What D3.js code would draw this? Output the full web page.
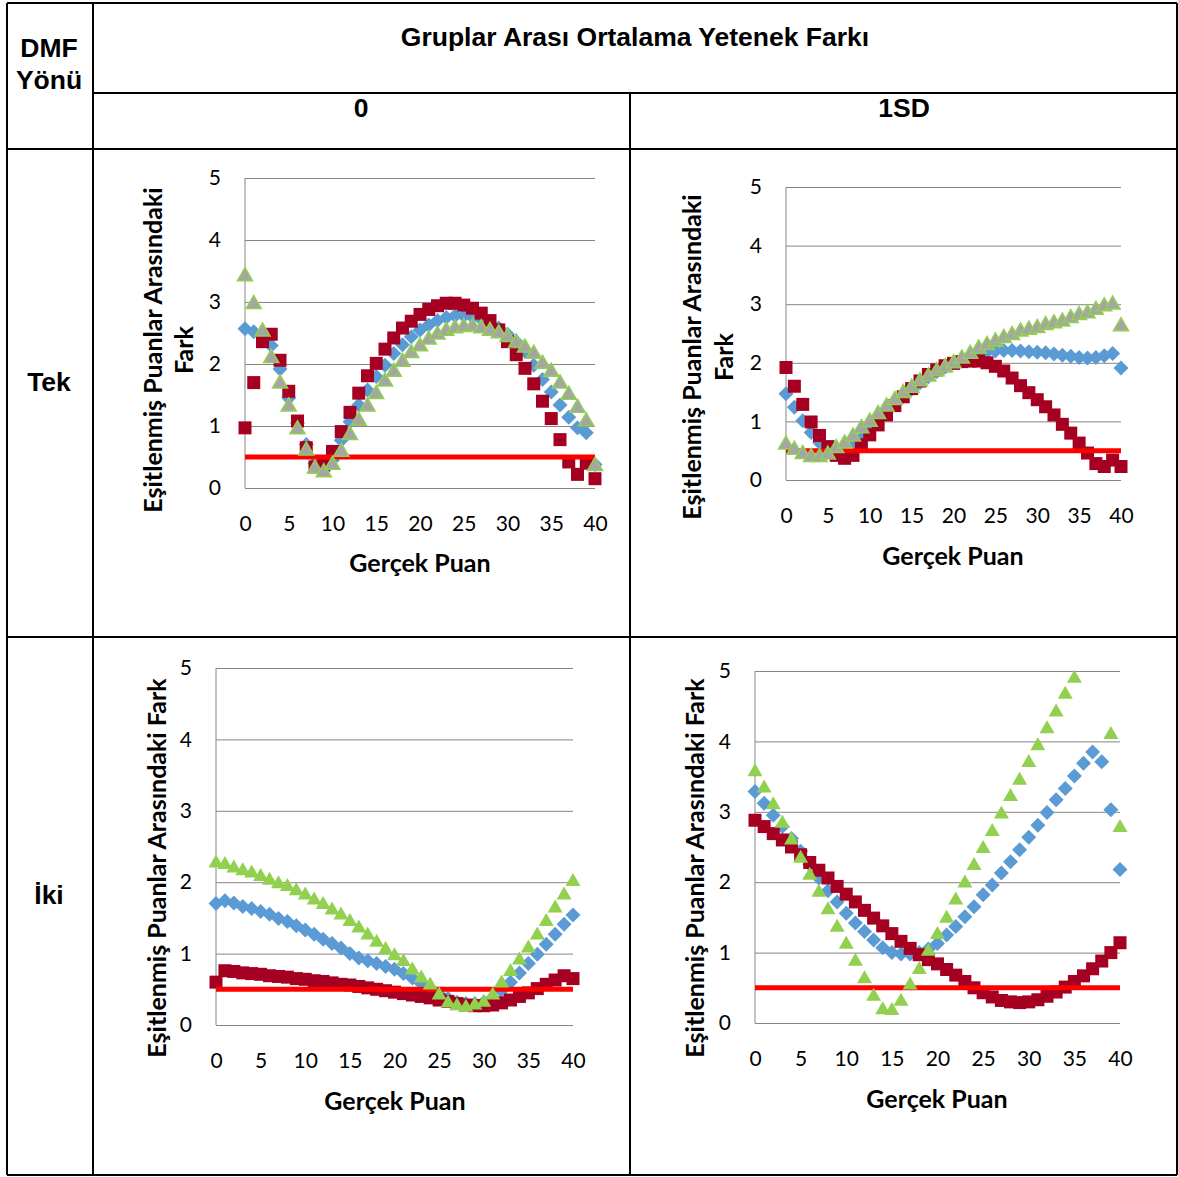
<!DOCTYPE html>
<html>
<head>
<meta charset="utf-8">
<script src="https://cdn.jsdelivr.net/npm/d3@7"></script>
<style>
    body { margin: 0; background: #fff; }
    svg text { font-family: Lato, "Open Sans", sans-serif; fill: #000; }
    .hdr { font-family: "Liberation Sans", Arial, sans-serif; font-weight: bold; font-size: 26.5px; }
    .tick text { font-size: 21px; }
    .ttl { font-weight: bold; font-size: 25px; }
    .grid line { stroke: #868686; stroke-width: 1px; }
    .cell { stroke: #000; stroke-width: 2px; }
</style>
</head>
<body>
<svg id="chart" width="1178" height="1177"></svg>
<script>
// x = Gerçek Puan, y = Eşitlenmiş Puanlar Arasındaki Fark
var puan = [0,1,2,3,4,5,6,7,8,9,10,11,12,13,14,15,16,17,18,19,20,
            21,22,23,24,25,26,27,28,29,30,31,32,33,34,35,36,37,38,39,40];
var xTicks = [0,5,10,15,20,25,30,35,40];
var yTicks = [0,1,2,3,4,5];
var esik = 0.5;

// Tek, fark 0
var tek0Blue = [2.57,2.52,2.45,2.3,1.92,1.45,1.05,0.7,0.4,0.3,0.45,0.77,1.07,1.34,1.58,1.8,1.98,2.17,2.31,2.44,2.55,
                2.63,2.7,2.75,2.78,2.78,2.76,2.72,2.66,2.58,2.48,2.36,2.2,1.98,1.75,1.55,1.34,1.14,0.97,0.89,0.38];
var tek0Red = [0.97,1.7,2.36,2.48,2.06,1.56,1.08,0.65,0.34,0.37,0.59,0.91,1.22,1.53,1.81,2.01,2.24,2.42,2.58,2.69,2.8,
               2.88,2.94,2.98,2.98,2.95,2.9,2.82,2.7,2.55,2.36,2.15,1.93,1.68,1.4,1.12,0.78,0.42,0.22,0.4,0.15];
var tek0Green = [3.44,2.99,2.55,2.12,1.71,1.34,0.97,0.63,0.34,0.28,0.4,0.61,0.88,1.11,1.34,1.54,1.74,1.9,2.06,2.2,2.31,
                 2.42,2.5,2.56,2.6,2.62,2.63,2.6,2.56,2.52,2.46,2.37,2.29,2.19,2.03,1.9,1.71,1.53,1.32,1.1,0.38];

// Tek, fark 1SD
var tek1Blue = [1.47,1.24,1.01,0.81,0.64,0.52,0.45,0.48,0.58,0.72,0.88,1.03,1.17,1.3,1.43,1.55,1.66,1.76,1.85,1.93,2.0,
                2.06,2.12,2.16,2.19,2.2,2.21,2.21,2.2,2.19,2.18,2.17,2.15,2.13,2.11,2.09,2.08,2.09,2.12,2.16,1.91];
var tek1Red = [1.92,1.6,1.29,0.99,0.76,0.57,0.42,0.37,0.42,0.6,0.77,0.94,1.11,1.27,1.42,1.56,1.69,1.8,1.88,1.95,1.99,
               2.02,2.03,2.03,2.0,1.94,1.86,1.74,1.61,1.49,1.37,1.25,1.11,0.95,0.8,0.63,0.46,0.28,0.23,0.34,0.23];
var tek1Green = [0.63,0.54,0.47,0.42,0.42,0.46,0.57,0.65,0.77,0.91,1.02,1.15,1.28,1.39,1.51,1.6,1.71,1.79,1.88,1.95,2.02,
                 2.1,2.18,2.27,2.33,2.39,2.45,2.5,2.56,2.59,2.62,2.67,2.7,2.73,2.79,2.84,2.87,2.93,2.99,3.02,2.65];

// İki, fark 0
var iki0Blue = [1.7,1.74,1.71,1.66,1.63,1.59,1.55,1.49,1.45,1.39,1.33,1.27,1.2,1.14,1.08,1.0,0.94,0.9,0.86,0.82,0.78,
                0.72,0.66,0.58,0.5,0.43,0.37,0.32,0.3,0.3,0.32,0.38,0.48,0.6,0.73,0.86,0.99,1.13,1.27,1.41,1.54];
var iki0Red = [0.6,0.76,0.75,0.73,0.72,0.71,0.69,0.68,0.67,0.65,0.64,0.62,0.61,0.59,0.57,0.56,0.54,0.52,0.5,0.48,0.46,
               0.44,0.42,0.4,0.38,0.35,0.33,0.3,0.28,0.27,0.27,0.28,0.31,0.35,0.4,0.45,0.51,0.57,0.63,0.69,0.65];
var iki0Green = [2.29,2.27,2.22,2.18,2.15,2.1,2.05,2.0,1.96,1.9,1.84,1.77,1.71,1.63,1.56,1.47,1.38,1.28,1.18,1.08,0.99,
                 0.91,0.79,0.68,0.58,0.44,0.33,0.29,0.27,0.3,0.34,0.44,0.61,0.77,0.93,1.1,1.28,1.47,1.66,1.84,2.03];

// İki, fark 1SD (36-38 ölçek dışı)
var iki1Blue = [3.29,3.12,2.95,2.79,2.62,2.44,2.25,2.06,1.88,1.72,1.56,1.42,1.3,1.18,1.07,1.0,0.98,0.98,1.0,1.05,1.13,
                1.25,1.37,1.51,1.65,1.82,1.96,2.13,2.29,2.46,2.64,2.81,2.99,3.17,3.33,3.51,3.69,3.85,3.71,3.03,2.18];
var iki1Red = [2.88,2.79,2.69,2.6,2.5,2.39,2.28,2.17,2.06,1.94,1.83,1.72,1.6,1.49,1.38,1.27,1.16,1.06,0.97,0.9,0.84,
               0.76,0.68,0.59,0.5,0.43,0.37,0.32,0.3,0.29,0.3,0.33,0.38,0.44,0.51,0.59,0.67,0.77,0.88,1.0,1.14];
var iki1Green = [3.59,3.36,3.12,2.86,2.62,2.36,2.12,1.88,1.63,1.38,1.14,0.9,0.65,0.4,0.21,0.2,0.33,0.56,0.78,1.04,1.28,
                 1.51,1.77,2.01,2.26,2.5,2.74,2.99,3.24,3.47,3.72,3.96,4.2,4.44,4.69,4.92,null,null,null,4.12,2.8];

var svg = d3.select("#chart");

// table
var cells = [
    [7, 3, 1177, 3], [7, 1175, 1177, 1175], [7, 3, 7, 1175], [1177, 3, 1177, 1175],
    [93, 3, 93, 1175], [630, 93, 630, 1175],
    [93, 93, 1177, 93], [7, 149, 1177, 149], [7, 637, 1177, 637]
];
svg.selectAll("line.cell").data(cells).enter().append("line")
    .attr("class", "cell")
    .attr("x1", function (d) { return d[0]; })
    .attr("y1", function (d) { return d[1]; })
    .attr("x2", function (d) { return d[2]; })
    .attr("y2", function (d) { return d[3]; });

var headers = [
    ["DMF", 49, 48], ["Yönü", 49, 80],
    ["Gruplar Arası Ortalama Yetenek Farkı", 635, 37],
    ["0", 361, 108], ["1SD", 904, 108],
    ["Tek", 49, 382], ["İki", 49, 895]
];
svg.selectAll("text.hdr").data(headers).enter().append("text")
    .attr("class", "hdr")
    .attr("x", function (d) { return d[1]; })
    .attr("y", function (d) { return d[2]; })
    .attr("dy", "0.35em")
    .attr("text-anchor", "middle")
    .text(function (d) { return d[0]; });

var diamond = "M0,-7.5L7.5,0L0,7.5L-7.5,0Z";
var square = "M-6.5,-6.5H6.5V6.5H-6.5Z";
var triangle = "M0,-7L7.5,6L-7.5,6Z";

var charts = [
    { left: 245, right: 595, top: 178, bottom: 488, blue: tek0Blue, red: tek0Red, green: tek0Green, gray: true,
      xTitle: [420, 563], yTitle: ["Eşitlenmiş Puanlar Arasındaki", "Fark"], yTitleX: 153, yTitleGap: 31, yTitleY: 350 },
    { left: 786, right: 1121, top: 187, bottom: 480, blue: tek1Blue, red: tek1Red, green: tek1Green, gray: true,
      xTitle: [953, 556], yTitle: ["Eşitlenmiş Puanlar Arasındaki", "Fark"], yTitleX: 692, yTitleGap: 32, yTitleY: 357 },
    { left: 216, right: 573, top: 668, bottom: 1025, blue: iki0Blue, red: iki0Red, green: iki0Green, gray: false,
      xTitle: [395, 1101], yTitle: ["Eşitlenmiş Puanlar Arasındaki Fark"], yTitleX: 157, yTitleGap: 0, yTitleY: 868 },
    { left: 755, right: 1120, top: 671, bottom: 1023, blue: iki1Blue, red: iki1Red, green: iki1Green, gray: false,
      xTitle: [937, 1099], yTitle: ["Eşitlenmiş Puanlar Arasındaki Fark"], yTitleX: 695, yTitleGap: 0, yTitleY: 868 }
];

function drawChart(c) {
    var x = d3.scaleLinear().domain([0, 40]).range([c.left, c.right]);
    var y = d3.scaleLinear().domain([0, 5]).range([c.bottom, c.top]);
    var g = svg.append("g");

    // gridlines + y labels
    g.append("g").attr("class", "grid")
        .attr("transform", "translate(" + c.left + ",0)")
        .call(d3.axisLeft(y).tickValues(yTicks).tickSize(-(c.right - c.left)).tickFormat(""))
        .call(function (s) { s.select(".domain").remove(); });

    g.append("g")
        .attr("transform", "translate(" + c.left + ",0)")
        .call(d3.axisLeft(y).tickValues(yTicks).tickSize(0).tickPadding(24).tickFormat(d3.format("d")))
        .call(function (s) { s.select(".domain").remove(); s.selectAll("text").attr("fill", "#000"); })
        .attr("font-family", null).attr("font-size", null);

    g.append("g")
        .attr("transform", "translate(0," + c.bottom + ")")
        .call(d3.axisBottom(x).tickValues(xTicks).tickSize(0).tickPadding(28))
        .call(function (s) { s.select(".domain").remove(); s.selectAll("text").attr("fill", "#000"); })
        .attr("font-family", null).attr("font-size", null);

    g.append("line")
        .attr("x1", c.left).attr("x2", c.left)
        .attr("y1", c.top).attr("y2", c.bottom)
        .attr("stroke", "#868686");

    function points(arr) {
        return puan.map(function (t, i) { return { t: t, v: arr[i] }; })
            .filter(function (d) { return d.v !== null && d.v <= 5; });
    }
    function place(d) { return "translate(" + x(d.t) + "," + y(d.v) + ")"; }

    g.selectAll(".blue").data(points(c.blue)).enter().append("path")
        .attr("class", "blue").attr("d", diamond).attr("transform", place)
        .attr("fill", "#5b9bd5");

    g.selectAll(".red").data(points(c.red)).enter().append("path")
        .attr("class", "red").attr("d", square).attr("transform", place)
        .attr("fill", "#a50021");

    g.append("line")
        .attr("x1", x(0)).attr("x2", x(40))
        .attr("y1", y(esik)).attr("y2", y(esik))
        .attr("stroke", "#ff0000").attr("stroke-width", 5);

    g.selectAll(".green").data(points(c.green)).enter().append("path")
        .attr("class", "green").attr("d", triangle).attr("transform", place)
        .attr("fill", c.gray ? "#a5a5a5" : "#92d050")
        .attr("stroke", c.gray ? "#92d050" : "none")
        .attr("stroke-width", 1.5);

    g.append("text").attr("class", "ttl")
        .attr("x", c.xTitle[0]).attr("y", c.xTitle[1])
        .attr("dy", "0.35em").attr("text-anchor", "middle")
        .text("Gerçek Puan");

    c.yTitle.forEach(function (line, i) {
        var cx = c.yTitleX + i * c.yTitleGap;
        g.append("text").attr("class", "ttl")
            .attr("transform", "translate(" + cx + "," + c.yTitleY + ") rotate(-90)")
            .attr("dy", "0.35em").attr("text-anchor", "middle")
            .text(line);
    });
}

charts.forEach(drawChart);
</script>
</body>
</html>
